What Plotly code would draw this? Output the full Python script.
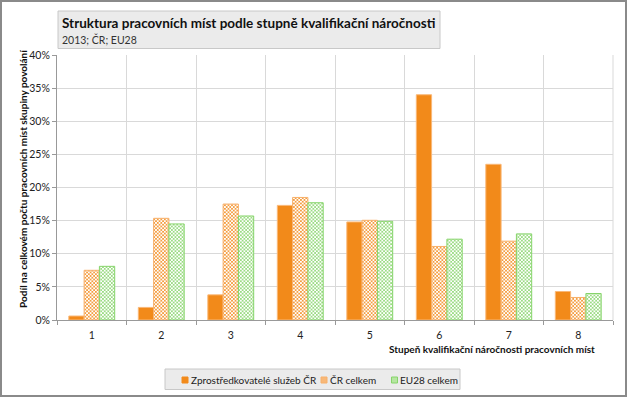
import plotly.graph_objects as go

categories = ["1", "2", "3", "4", "5", "6", "7", "8"]
zprostredkovatele = [0.6, 1.9, 3.8, 17.3, 14.8, 34.0, 23.5, 4.3]
cr_celkem = [7.5, 15.35, 17.5, 18.5, 15.05, 11.1, 11.9, 3.4]
eu28_celkem = [8.1, 14.5, 15.7, 17.7, 14.9, 12.2, 13.0, 4.0]
series_names = ["Zprostředkovatelé služeb ČR", "ČR celkem", "EU28 celkem"]
y_ticks = [0, 5, 10, 15, 20, 25, 30, 35, 40]
y_ticklabels = [f"{v}%" for v in y_ticks]

FONT = "Lato, 'Open Sans', sans-serif"
ORANGE = "#F28A1A"
ORANGE_LIGHT = "#F7B06A"
GREEN = "#86D46A"

L, R, T, B = 57, 14, 55, 77
W, H = 627, 397
PW, PH = W - L - R, H - T - B


def px(x):
    return (x - L) / PW


def py(y):
    return (H - B - y) / PH


fig = go.Figure()
fig.add_bar(
    x=categories, y=zprostredkovatele, name=series_names[0], showlegend=False,
    marker=dict(color=ORANGE, line=dict(color="#F9B878", width=1)),
)
fig.add_bar(
    x=categories, y=cr_celkem, name=series_names[1], showlegend=False,
    marker=dict(color="white", line=dict(color=ORANGE_LIGHT, width=1),
                pattern=dict(shape="x", fgcolor=ORANGE, bgcolor="white", size=2.5, solidity=0.5, fillmode="replace")),
)
fig.add_bar(
    x=categories, y=eu28_celkem, name=series_names[2], showlegend=False,
    marker=dict(color="white", line=dict(color=GREEN, width=1),
                pattern=dict(shape="x", fgcolor=GREEN, bgcolor="white", size=2.5, solidity=0.5, fillmode="replace")),
)

fig.update_layout(
    width=W, height=H,
    margin=dict(l=L, r=R, t=T, b=B, autoexpand=False),
    paper_bgcolor="white", plot_bgcolor="white",
    font=dict(family=FONT, size=10, color="#222"),
    barmode="group", bargap=0.34, bargroupgap=0,
    showlegend=False,
    xaxis=dict(
        type="category", tickson="boundaries", showgrid=True, gridcolor="#D9D9D9", gridwidth=1,
        ticks="outside", ticklen=4, tickcolor="#999", showline=True, linecolor="#999", linewidth=1,
        tickfont=dict(family=FONT, size=10.5, color="#222"), ticklabelstandoff=5,
    ),
    yaxis=dict(
        range=[0, 40], tickvals=y_ticks, ticktext=y_ticklabels,
        showgrid=True, gridcolor="#D9D9D9", gridwidth=1,
        ticks="outside", ticklen=4, tickcolor="#999", showline=True, linecolor="#999",
        tickfont=dict(family=FONT, size=10.5, color="#222"), zeroline=False,
    ),
)

# right plot border (light)
fig.add_shape(type="line", xref="paper", yref="paper", x0=1, x1=1, y0=0, y1=1,
              line=dict(color="#D9D9D9", width=1))

# axis titles
fig.add_annotation(
    text="<b>Podíl na celkovém počtu pracovních míst skupiny povolání</b>",
    xref="paper", yref="paper", x=px(23), y=py(179), textangle=-90, showarrow=False,
    font=dict(family=FONT, size=10, color="#111"), xanchor="center", yanchor="middle",
)
fig.add_annotation(
    text="<b>Stupeň kvalifikační náročnosti pracovních míst</b>",
    xref="paper", yref="paper", x=px(597), y=py(349), showarrow=False,
    font=dict(family=FONT, size=10, color="#111"), xanchor="right", yanchor="middle",
)

# title box
fig.add_shape(type="rect", xref="paper", yref="paper",
              x0=px(58), x1=px(440), y0=py(48.5), y1=py(11),
              fillcolor="#EBEBEB", line=dict(color="#C8C8C8", width=1), layer="above")
fig.add_annotation(
    text="<b>Struktura pracovních míst podle stupně kvalifikační náročnosti</b>",
    xref="paper", yref="paper", x=px(60), y=py(23), showarrow=False,
    font=dict(family=FONT, size=13.5, color="#111"), xanchor="left", yanchor="middle",
)
fig.add_annotation(
    text="2013; ČR; EU28",
    xref="paper", yref="paper", x=px(60), y=py(39.5), showarrow=False,
    font=dict(family=FONT, size=10.5, color="#333"), xanchor="left", yanchor="middle",
)

# legend (drawn manually to match the compact original layout)
fig.add_shape(type="rect", xref="paper", yref="paper",
              x0=px(165), x1=px(460), y0=py(389.5), y1=py(369),
              fillcolor="#EBEBEB", line=dict(color="#C8C8C8", width=1))
legend_items = [
    (182, 189, ORANGE, ORANGE),
    (321, 327.5, "#F8B878", ORANGE_LIGHT),
    (391.5, 397.5, "#B6E6A2", GREEN),
]
for (x0, tx, fill, edge), name in zip(legend_items, series_names):
    fig.add_shape(type="rect", xref="paper", yref="paper",
                  x0=px(x0), x1=px(x0 + 6), y0=py(383), y1=py(377),
                  fillcolor=fill, line=dict(color=edge, width=1))
    fig.add_annotation(
        text=name, xref="paper", yref="paper", x=px(tx), y=py(380), showarrow=False,
        font=dict(family=FONT, size=10, color="#222"), xanchor="left", yanchor="middle",
    )

# outer frame
fig.add_shape(type="rect", xref="paper", yref="paper",
              x0=px(1), x1=px(W - 1), y0=py(H - 1), y1=py(1),
              line=dict(color="#8A8A8A", width=2), fillcolor="rgba(0,0,0,0)")

fig.write_html("out.html", config={"displayModeBar": False},
               post_script="document.body.style.margin='0';document.body.style.overflow='hidden';")
